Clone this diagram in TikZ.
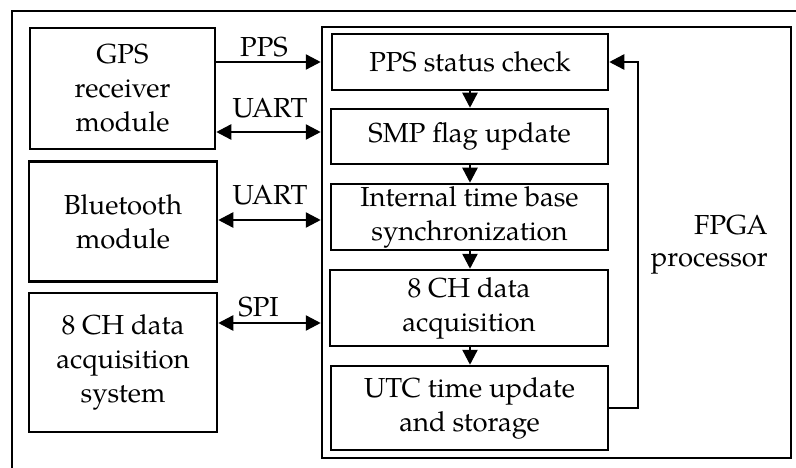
\documentclass[tikz,border=0pt]{standalone}
\usepackage{fontspec}
\setmainfont{TeX Gyre Pagella}
\usetikzlibrary{arrows.meta}
\tikzset{
  blk/.style={draw, line width=2.5pt, inner sep=0pt, align=center, font=\fontsize{27.5}{34}\selectfont},
  lbl/.style={inner sep=0pt, anchor=base, font=\fontsize{27.5}{30}\selectfont},
  arr/.style={line width=2.4pt, -{Triangle[length=15pt,width=15pt]}},
  darr/.style={line width=2.4pt, {Triangle[length=15pt,width=15pt]}-{Triangle[length=15pt,width=15pt]}},
}
\begin{document}
\begin{tikzpicture}[x=1pt,y=-1pt]
\useasboundingbox (0,0) rectangle (796,468);
% outer frame
\draw[line width=1.5pt] (12,468) -- (12,11) -- (796,11);
% FPGA box
\node[blk, minimum width=469pt, minimum height=431pt] (fpga) at (556.5,242.5) {};
\node[lbl, anchor=base east] (fpgalbl1) at (768,235) {FPGA};
\node[lbl, anchor=base east] (fpgalbl2) at (768,266) {processor};
% left boxes
\node[blk, minimum width=185pt, minimum height=121pt] (gps) at (122.5,88.5) {GPS\\receiver\\module};
\node[blk, minimum width=188pt, minimum height=120pt] (bt) at (123,221.5) {Bluetooth\\module};
\node[blk, minimum width=188pt, minimum height=139pt] (daq) at (123,362.5) {8 CH data\\acquisition\\system};
% inner boxes
\node[blk, minimum width=276pt, minimum height=56pt] (pps) at (470,62) {PPS status check};
\node[blk, minimum width=277pt, minimum height=55pt] (smp) at (469.5,136.5) {SMP flag update};
\node[blk, minimum width=277pt, minimum height=66pt] (itb) at (469.5,217) {Internal time base\\synchronization};
\node[blk, minimum width=278pt, minimum height=76pt] (ch8) at (469,308) {8 CH data\\acquisition};
\node[blk, minimum width=277pt, minimum height=84pt] (utc) at (469.5,408) {UTC time update\\and storage};
% flow arrows
\draw[arr] (pps.south -| 470,0) -- (smp.north -| 470,0);
\draw[arr] (smp.south -| 470,0) -- (itb.north -| 470,0);
\draw[arr] (itb.south -| 470,0) -- (ch8.north -| 470,0);
\draw[arr] (ch8.south -| 470,0) -- (utc.north -| 470,0);
\draw[arr] (utc.east) -- ++(29,0) |- (pps.east);
% interface arrows
\draw[arr] (gps.east |- 0,62) -- (fpga.west |- 0,62);
\draw[darr] (gps.east |- 0,132) -- (fpga.west |- 0,132);
\draw[darr] (bt.east |- 0,220) -- (fpga.west |- 0,220);
\draw[darr] (daq.east |- 0,323) -- (fpga.west |- 0,323);
% labels
\node[lbl] (lpps) at (264,57) {PPS};
\node[lbl] (luart1) at (270,118) {UART};
\node[lbl] (luart2) at (270,205) {UART};
\node[lbl] (lspi) at (258.5,316) {SPI};
\end{tikzpicture}
\end{document}
